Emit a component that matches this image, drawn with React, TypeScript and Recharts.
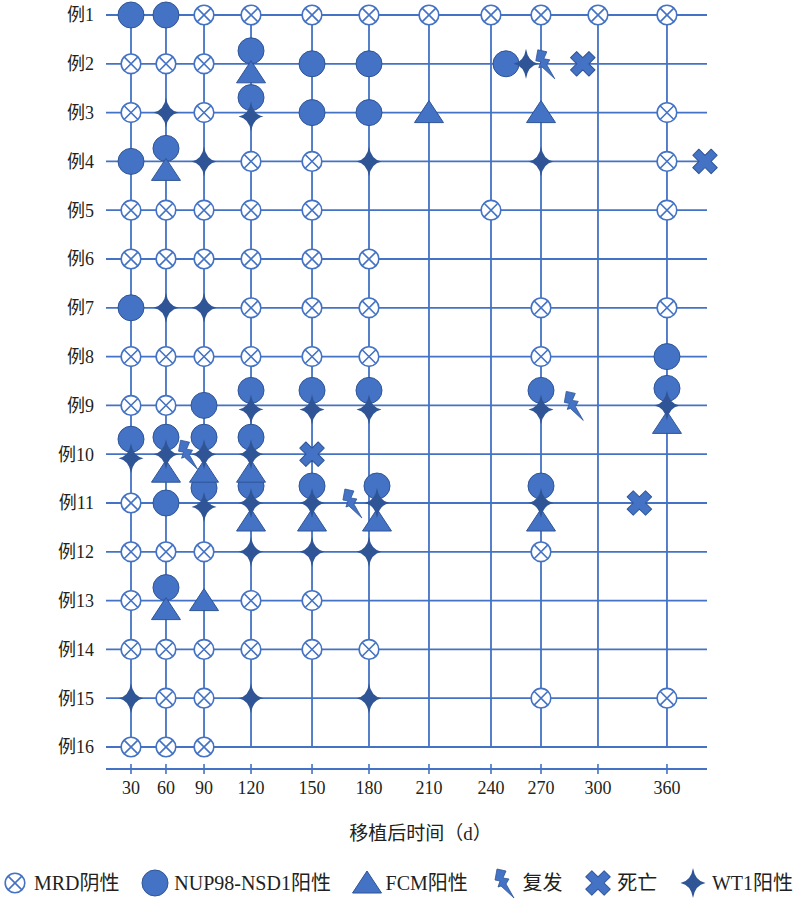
import React from 'react';
import { ScatterChart, Scatter, XAxis, YAxis, CartesianGrid, Legend } from 'recharts';

const BLUE = '#4472C4';
const DARK = '#2F5597';
const TEXT = '#231F20';
const FONT = "'Liberation Serif', 'Noto Sans CJK SC', serif";

const cases = ['例1', '例2', '例3', '例4', '例5', '例6', '例7', '例8', '例9', '例10', '例11', '例12', '例13', '例14', '例15', '例16'];
const dayTicks = [30, 60, 90, 120, 150, 180, 210, 240, 270, 300, 360];

// [case number, days after transplant]
const mrdNegative: [number, number[]][] = [
  [1, [90, 120, 150, 180, 210, 240, 270, 300, 360]],
  [2, [30, 60, 90]],
  [3, [30, 90, 360]],
  [4, [120, 150, 360]],
  [5, [30, 60, 90, 120, 150, 240, 360]],
  [6, [30, 60, 90, 120, 150, 180]],
  [7, [120, 150, 180, 270, 360]],
  [8, [30, 60, 90, 120, 150, 180, 270]],
  [9, [30, 60]],
  [11, [30]],
  [12, [30, 60, 90, 270]],
  [13, [30, 120, 150]],
  [14, [30, 60, 90, 120, 150, 180]],
  [15, [60, 90, 270, 360]],
  [16, [30, 60, 90]],
];

const nupPositive: [number, number[]][] = [
  [1, [30, 60]],
  [2, [120, 150, 180, 249]],
  [3, [120, 150, 180]],
  [4, [30, 60]],
  [7, [30]],
  [8, [360]],
  [9, [90, 120, 150, 180, 270, 360]],
  [10, [30, 60, 90, 120]],
  [11, [60, 90, 120, 150, 184, 270]],
  [13, [60]],
];

const fcmPositive: [number, number[]][] = [
  [2, [120]],
  [3, [210, 270]],
  [4, [60]],
  [9, [360]],
  [10, [60, 90, 120]],
  [11, [120, 150, 184, 270]],
  [13, [60, 90]],
];

const wt1Positive: [number, number[]][] = [
  [2, [261]],
  [3, [60, 120]],
  [4, [90, 180, 270]],
  [7, [60, 90]],
  [9, [120, 150, 180, 270, 360]],
  [10, [30, 60, 90, 120]],
  [11, [90, 120, 150, 184, 270]],
  [12, [120, 150, 180]],
  [15, [30, 120, 180]],
];

const relapse: [number, number[]][] = [
  [2, [272]],
  [9, [287]],
  [10, [77]],
  [11, [171]],
];

const death: [number, number[]][] = [
  [2, [292]],
  [4, [398]],
  [10, [150]],
  [11, [336]],
];

const legendItems = [
  { kind: 'mrd', label: 'MRD阴性' },
  { kind: 'nup', label: 'NUP98-NSD1阳性' },
  { kind: 'fcm', label: 'FCM阳性' },
  { kind: 'relapse', label: '复发' },
  { kind: 'death', label: '死亡' },
  { kind: 'wt1', label: 'WT1阳性' },
];

// the time axis in the figure is not linear, so map days piecewise
const scaleDays = [0, 30, 60, 90, 120, 150, 180, 210, 240, 270, 300, 360, 400];
const scaleStops = [0, 0.0416, 0.0998, 0.1631, 0.2413, 0.3428, 0.4376, 0.5374, 0.6406, 0.7238, 0.8186, 0.9334, 1];

function createDayScale(): any {
  let domain = [0, 400];
  let range = [0, 1];
  const toFraction = (v: number) => {
    for (let i = 1; i < scaleDays.length; i++) {
      if (v <= scaleDays[i] || i === scaleDays.length - 1) {
        const t = (v - scaleDays[i - 1]) / (scaleDays[i] - scaleDays[i - 1]);
        return scaleStops[i - 1] + t * (scaleStops[i] - scaleStops[i - 1]);
      }
    }
    return 0;
  };
  const scale: any = (v: number) => range[0] + toFraction(Number(v)) * (range[1] - range[0]);
  scale.domain = (d?: number[]) => {
    if (d === undefined) return domain.slice();
    domain = d.slice();
    return scale;
  };
  scale.range = (r?: number[]) => {
    if (r === undefined) return range.slice();
    range = r.slice();
    return scale;
  };
  scale.copy = () => createDayScale().domain(domain).range(range);
  scale.ticks = () => dayTicks.slice();
  return scale;
}

const dayScale = createDayScale();

// markers that share a cell are stacked vertically
const cellKinds = new Map<string, Set<string>>();
const register = (kind: string, list: [number, number[]][]) =>
  list.forEach(([row, days]) =>
    days.forEach((day) => {
      const key = `${row}-${day}`;
      if (!cellKinds.has(key)) cellKinds.set(key, new Set());
      cellKinds.get(key)!.add(kind);
    })
  );
register('nup', nupPositive);
register('fcm', fcmPositive);
register('wt1', wt1Positive);

const stackOffset = (kind: string, row: number, day: number) => {
  const s = cellKinds.get(`${row}-${day}`);
  if (!s) return 0;
  const n = s.has('nup');
  const w = s.has('wt1');
  const f = s.has('fcm');
  if (n && w && f) return ({ nup: -17, wt1: 0, fcm: 18 } as any)[kind] ?? 0;
  if (n && f) return ({ nup: -13, fcm: 9 } as any)[kind] ?? 0;
  if (n && w) return ({ nup: -15, wt1: 4 } as any)[kind] ?? 0;
  return 0;
};

const toPoints = (kind: string, list: [number, number[]][]) =>
  list.flatMap(([row, days]) => days.map((day) => ({ row, day, dy: stackOffset(kind, row, day) })));

const drawMarker = (kind: string, x: number, y: number) => {
  const t = `translate(${x},${y})`;
  switch (kind) {
    case 'mrd':
      return (
        <g transform={t}>
          <circle r={9.8} fill="#fff" stroke={BLUE} strokeWidth={1.6} />
          <path d="M-6.9,-6.9L6.9,6.9M6.9,-6.9L-6.9,6.9" stroke={BLUE} strokeWidth={1.6} />
        </g>
      );
    case 'nup':
      return (
        <g transform={t}>
          <circle r={13} fill={BLUE} stroke={DARK} strokeWidth={1} />
        </g>
      );
    case 'fcm':
      return (
        <g transform={t}>
          <path d="M0,-12L14.5,10L-14.5,10Z" fill={BLUE} stroke={DARK} strokeWidth={1} strokeLinejoin="round" />
        </g>
      );
    case 'wt1':
      return (
        <g transform={t}>
          <path d="M0,-15Q2,-2 12.5,0Q2,2 0,15Q-2,2 -12.5,0Q-2,-2 0,-15Z" fill={DARK} />
        </g>
      );
    case 'relapse':
      return (
        <g transform={t}>
          <path
            d="M-7,-14L2,-12L-1,-5L5,-4L2,1L10,15L-3,3L-6,4L-4,-2L-9,-3Z"
            fill={BLUE}
            stroke={DARK}
            strokeWidth={0.8}
            strokeLinejoin="round"
          />
        </g>
      );
    case 'death':
      return (
        <g transform={`${t} rotate(45)`}>
          <path
            d="M-4.3,-13L4.3,-13L4.3,-4.3L13,-4.3L13,4.3L4.3,4.3L4.3,13L-4.3,13L-4.3,4.3L-13,4.3L-13,-4.3L-4.3,-4.3Z"
            fill={BLUE}
            stroke={DARK}
            strokeWidth={1}
            strokeLinejoin="round"
          />
        </g>
      );
    default:
      return <g />;
  }
};

const series = [
  { kind: 'mrd', points: toPoints('mrd', mrdNegative) },
  { kind: 'nup', points: toPoints('nup', nupPositive) },
  { kind: 'fcm', points: toPoints('fcm', fcmPositive) },
  { kind: 'wt1', points: toPoints('wt1', wt1Positive) },
  { kind: 'relapse', points: toPoints('relapse', relapse) },
  { kind: 'death', points: toPoints('death', death) },
];

const DayTick = (props: any) => {
  const { x, y, payload } = props;
  return (
    <g>
      <line x1={x} x2={x} y1={y - 5} y2={y + 5} stroke={BLUE} strokeWidth={1.6} />
      <text x={x} y={y + 25} textAnchor="middle" fill={TEXT} fontSize={18} fontFamily={FONT}>
        {payload.value}
      </text>
    </g>
  );
};

const NoTick = () => <g />;

const renderLegend = () => (
  <div
    style={{
      display: 'flex',
      justifyContent: 'space-between',
      alignItems: 'center',
      height: 30,
      padding: '0 1px 0 2px',
      fontFamily: FONT,
      fontSize: 20,
      color: TEXT,
    }}
  >
    {legendItems.map((item) => (
      <div key={item.kind} style={{ display: 'flex', alignItems: 'center' }}>
        <svg width={30} height={30} style={{ overflow: 'visible' }}>
          {drawMarker(item.kind, 13, 15)}
        </svg>
        <span style={{ marginLeft: 2, lineHeight: '30px' }}>{item.label}</span>
      </div>
    ))}
  </div>
);

export default function App() {
  return (
    <div style={{ position: 'absolute', left: 0, top: 0, width: 794, height: 900, background: '#fff' }}>
      <ScatterChart width={794} height={900} margin={{ top: 15, right: 87, left: 0, bottom: 24 }}>
        <CartesianGrid stroke={BLUE} strokeWidth={1.8} syncWithTicks />
        <XAxis
          xAxisId={0}
          type="number"
          dataKey="day"
          domain={[0, 400]}
          scale={dayScale}
          ticks={dayTicks}
          interval={0}
          height={22}
          axisLine={false}
          tickLine={false}
          tick={<NoTick />}
        />
        <XAxis
          xAxisId="axis"
          type="number"
          dataKey="day"
          domain={[0, 400]}
          allowDataOverflow
          scale={dayScale}
          ticks={dayTicks}
          interval={0}
          height={77}
          axisLine={{ stroke: BLUE, strokeWidth: 1.8 }}
          tickLine={false}
          tickSize={0}
          tickMargin={0}
          tick={<DayTick />}
          label={{
            value: '移植后时间（d）',
            position: 'insideBottom',
            offset: 6,
            dx: 14,
            fill: TEXT,
            fontSize: 19,
            fontFamily: FONT,
          }}
        />
        <YAxis
          type="number"
          dataKey="row"
          domain={[1, 16]}
          reversed
          ticks={cases.map((_, i) => i + 1)}
          tickFormatter={(v: number) => cases[v - 1]}
          interval={0}
          width={106}
          axisLine={false}
          tickLine={false}
          tickSize={0}
          tickMargin={12}
          tick={{ fill: TEXT, fontSize: 18, fontFamily: FONT }}
        />
        <Legend verticalAlign="bottom" height={30} wrapperStyle={{ bottom: 2, left: 0, width: 794 }} content={renderLegend} />
        {series.map((s) => (
          <Scatter
            key={s.kind}
            data={s.points}
            isAnimationActive={false}
            shape={(p: any) => drawMarker(s.kind, p.cx, p.cy + (p.payload?.dy ?? 0))}
          />
        ))}
      </ScatterChart>
    </div>
  );
}
